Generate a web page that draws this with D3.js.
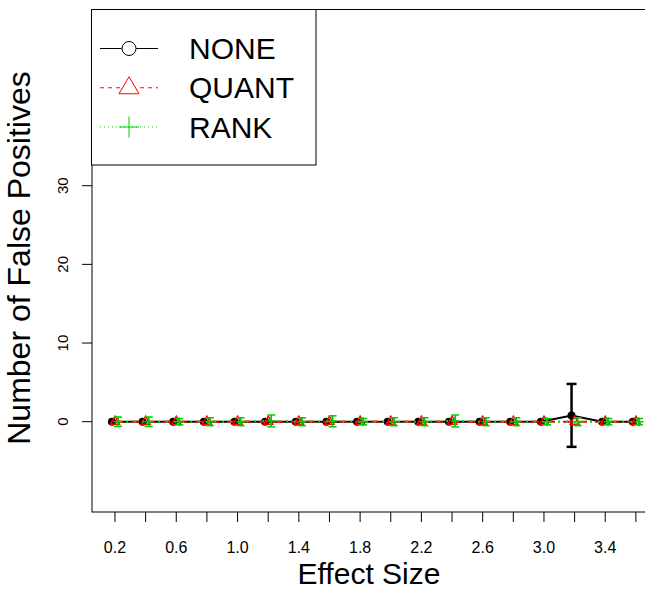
<!DOCTYPE html>
<html>
<head>
<meta charset="utf-8">
<script src="https://cdn.jsdelivr.net/npm/d3@7"></script>
<style>
  body { margin: 0; background: #fff; }
  text { font-family: "Liberation Sans", Arial, sans-serif; }
</style>
</head>
<body>
<div id="vis"></div>
<script>
// data
const effectSizes = [0.2, 0.4, 0.6, 0.8, 1.0, 1.2, 1.4, 1.6, 1.8, 2.0, 2.2, 2.4, 2.6, 2.8, 3.0, 3.2, 3.4, 3.6];
const noneMean = [0, 0, 0, 0, 0, 0, 0, 0, 0, 0, 0, 0, 0, 0, 0, 0.8, 0, 0];
const noneErr  = [0, 0, 0, 0, 0, 0, 0, 0, 0, 0, 0, 0, 0, 0, 0, 4.0, 0, 0];
const quantMean = [0, 0, 0, 0, 0, 0, 0, 0, 0, 0, 0, 0, 0, 0, 0, 0, 0, 0];
const quantErr  = [0, 0, 0, 0, 0, 0, 0, 0, 0, 0, 0, 0, 0, 0, 0, 0, 0, 0];
const rankMean = [0, 0, 0, 0, 0, 0.1, 0, 0.05, 0, 0, 0, 0.1, 0, 0, 0, 0, 0, 0];
const rankErr  = [0.6, 0.6, 0.4, 0.5, 0.5, 0.75, 0.5, 0.7, 0.4, 0.5, 0.5, 0.75, 0.5, 0.5, 0.4, 0.5, 0.4, 0.4];
const xTicks = [0.2, 0.4, 0.6, 0.8, 1.0, 1.2, 1.4, 1.6, 1.8, 2.0, 2.2, 2.4, 2.6, 2.8, 3.0, 3.2, 3.4, 3.6];
const xLabels = [0.2, 0.6, 1.0, 1.4, 1.8, 2.2, 2.6, 3.0, 3.4];
const yTicks = [0, 10, 20, 30];
const seriesNames = ["NONE", "QUANT", "RANK"];

const W = 645, H = 590;
let margin = {top: 9.5, left: 92, bottom: 78},
    plotRight = 665,
    plotBottom = H - margin.bottom;

const svg = d3.select("#vis")
  .append("svg")
  .attr("width", W)
  .attr("height", H);

const x = d3.scaleLinear().domain([0.05, 3.79]).range([margin.left, plotRight]);
const y = d3.scaleLinear().domain([-11.48, 52.4]).range([plotBottom, margin.top]);

// series styles
const series = [
  {name: "NONE", mean: noneMean, err: noneErr, off: -0.02, color: "#000000", dash: null, legDash: null, ebw: 2.5, cap: 5},
  {name: "QUANT", mean: quantMean, err: quantErr, off: 0, color: "#ff0000", dash: "8,8", legDash: "4,4", ebw: 1.5, cap: 4},
  {name: "RANK", mean: rankMean, err: rankErr, off: 0.02, color: "#00cd00", dash: "2,6", legDash: "1,3", ebw: 1.5, cap: 4}
];

const line = d3.line().x(d => x(d[0])).y(d => y(d[1]));

series.forEach(function (s) {
  let pts = effectSizes.map((e, i) => [e + s.off, s.mean[i], s.err[i]]);
  let g = svg.append("g");

  g.append("path")
    .datum(pts)
    .attr("fill", "none")
    .attr("stroke", s.color)
    .attr("stroke-width", 2)
    .attr("stroke-dasharray", s.dash)
    .attr("d", line);

  // error bars
  let eb = g.selectAll(".eb")
    .data(pts.filter(d => d[2] > 0))
    .join("g");
  eb.append("line")
    .attr("x1", d => x(d[0])).attr("x2", d => x(d[0]))
    .attr("y1", d => y(d[1] - d[2])).attr("y2", d => y(d[1] + d[2]))
    .attr("stroke", s.color).attr("stroke-width", s.ebw);
  [1, -1].forEach(function (sign) {
    eb.append("line")
      .attr("x1", d => x(d[0]) - s.cap).attr("x2", d => x(d[0]) + s.cap)
      .attr("y1", d => y(d[1] + sign * d[2])).attr("y2", d => y(d[1] + sign * d[2]))
      .attr("stroke", s.color).attr("stroke-width", s.ebw);
  });

  // markers
  let m = g.selectAll(".pt").data(pts).join("g")
    .attr("transform", d => `translate(${x(d[0])},${y(d[1])})`);
  if (s.name == "NONE") {
    m.append("circle").attr("r", 4).attr("fill", s.color);
  } else if (s.name == "QUANT") {
    m.append("path").attr("d", "M0,-5.5L4.5,2.5L-4.5,2.5Z")
      .attr("fill", "none").attr("stroke", s.color).attr("stroke-width", 1.5);
  } else {
    m.append("path").attr("d", "M-4.5,0H4.5M0,-4.5V4.5")
      .attr("stroke", s.color).attr("stroke-width", 1.5);
  }
});

// frame
svg.append("rect")
  .attr("x", margin.left).attr("y", margin.top)
  .attr("width", plotRight - margin.left).attr("height", plotBottom - margin.top)
  .attr("fill", "none").attr("stroke", "#000").attr("stroke-width", 1);

// x axis
svg.append("g")
  .selectAll("line")
  .data(xTicks)
  .join("line")
  .attr("x1", d => x(d)).attr("x2", d => x(d))
  .attr("y1", plotBottom).attr("y2", plotBottom + 10)
  .attr("stroke", "#000");
svg.append("g")
  .selectAll("text")
  .data(xLabels)
  .join("text")
  .attr("x", d => x(d))
  .attr("y", plotBottom + 41)
  .attr("text-anchor", "middle")
  .style("font-size", "16px")
  .text(d => d3.format(".1f")(d));

// y axis
svg.append("g")
  .selectAll("line")
  .data(yTicks)
  .join("line")
  .attr("x1", margin.left - 10).attr("x2", margin.left)
  .attr("y1", d => y(d)).attr("y2", d => y(d))
  .attr("stroke", "#000");
svg.append("g")
  .selectAll("text")
  .data(yTicks)
  .join("text")
  .attr("transform", d => `translate(67.5,${y(d)}) rotate(-90)`)
  .attr("text-anchor", "middle")
  .style("font-size", "15px")
  .text(d => d);

// axis titles
svg.append("text")
  .attr("x", 369).attr("y", 583.5)
  .attr("text-anchor", "middle")
  .style("font-size", "30px")
  .text("Effect Size");
svg.append("text")
  .attr("transform", `translate(30,258) rotate(-90)`)
  .attr("text-anchor", "middle")
  .style("font-size", "32px")
  .text("Number of False Positives");

// legend
let leg = svg.append("g");
leg.append("rect")
  .attr("x", 91.5).attr("y", 9.5).attr("width", 224.5).attr("height", 155.5)
  .attr("fill", "#fff").attr("stroke", "#000");
let rowY = d3.scalePoint().domain(seriesNames).range([48.5, 127]);
series.forEach(function (s) {
  let cy = rowY(s.name);
  leg.append("line")
    .attr("x1", 100).attr("x2", 158).attr("y1", cy).attr("y2", cy)
    .attr("stroke", s.color).attr("stroke-dasharray", s.legDash);
  if (s.name == "NONE") {
    leg.append("circle").attr("cx", 129).attr("cy", cy).attr("r", 7)
      .attr("fill", "#fff").attr("stroke", s.color);
  } else if (s.name == "QUANT") {
    leg.append("path")
      .attr("d", `M129,${cy - 11}L139,${cy + 6}L119,${cy + 6}Z`)
      .attr("fill", "#fff").attr("stroke", s.color);
  } else {
    leg.append("path")
      .attr("d", `M119,${cy}H139M129,${cy - 10.5}V${cy + 10.5}`)
      .attr("stroke", s.color);
  }
  leg.append("text")
    .attr("x", 189).attr("y", cy + 10.7)
    .style("font-size", "30px")
    .text(s.name);
});
</script>
</body>
</html>
